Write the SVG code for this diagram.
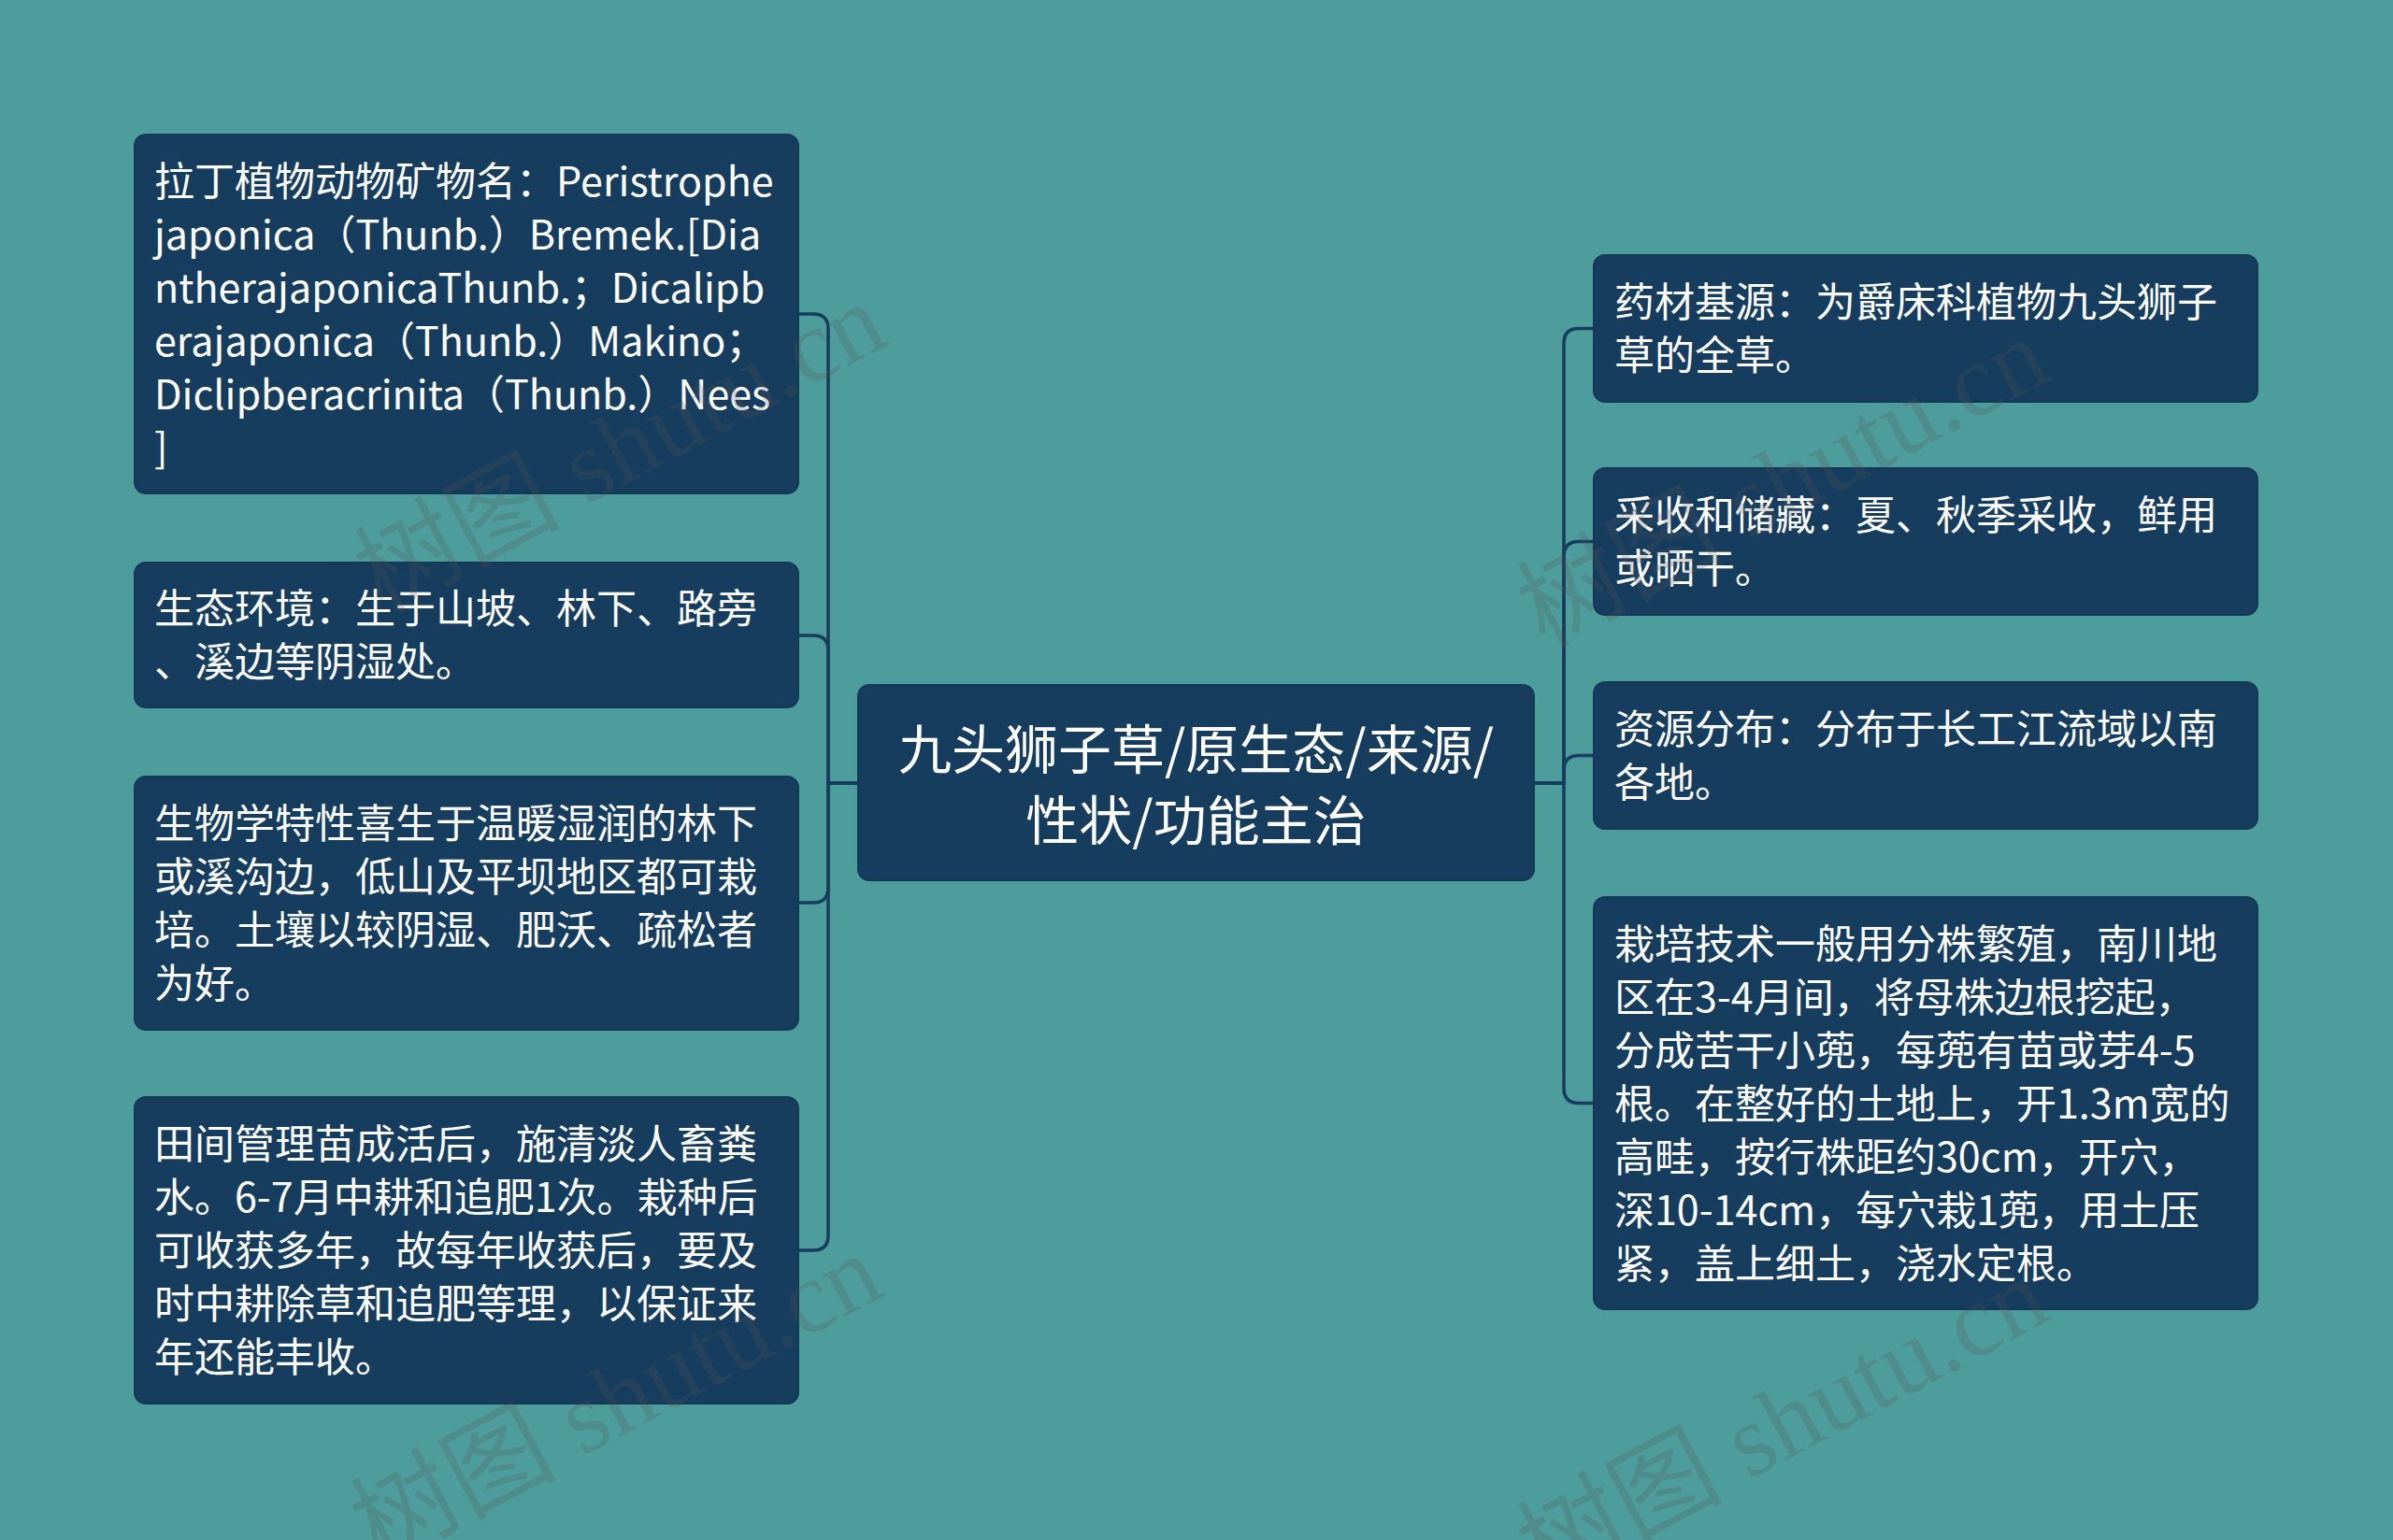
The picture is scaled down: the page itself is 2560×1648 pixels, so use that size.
<svg xmlns="http://www.w3.org/2000/svg" width="2560" height="1648" viewBox="0 0 2560 1648">
<style>
.bg{fill:#4E9D9D}
.box{fill:#173D5E;stroke:#143858;stroke-width:2}
.t{font-family:"Noto Sans CJK SC","Noto Sans",sans-serif;font-size:43px;fill:#FFFFFF}
.tc{font-family:"Noto Sans CJK SC","Noto Sans",sans-serif;font-size:57px;fill:#FFFFFF;text-anchor:middle}
.c{fill:none;stroke:#173D5E;stroke-width:3.5}
.wm{font-family:"Liberation Serif","Noto Sans CJK SC",serif;font-size:110px;fill:#555555;opacity:0.22}
</style>
<rect class="bg" x="0" y="0" width="2560" height="1648"/>
<g id="connectors">
<path class="c" d="M918,838 H886 V352 Q886,336 870,336 H854"/>
<path class="c" d="M918,838 H886 V696 Q886,680 870,680 H854"/>
<path class="c" d="M918,838 H886 V950 Q886,966 870,966 H854"/>
<path class="c" d="M918,838 H886 V1322 Q886,1338 870,1338 H854"/>
<path class="c" d="M1641,838 H1673 V367.5 Q1673,351.5 1689,351.5 H1705"/>
<path class="c" d="M1641,838 H1673 V595.5 Q1673,579.5 1689,579.5 H1705"/>
<path class="c" d="M1641,838 H1673 V824.5 Q1673,808.5 1689,808.5 H1705"/>
<path class="c" d="M1641,838 H1673 V1164.5 Q1673,1180.5 1689,1180.5 H1705"/>
</g>
<g id="center">
<rect class="box" x="918" y="733" width="723" height="209" rx="12"/>
<text class="tc" x="1279.5" y="823">九头狮子草/原生态/来源/</text>
<text class="tc" x="1279.5" y="899">性状/功能主治</text>
</g>
<g id="latin-name">
<rect class="box" x="144" y="144" width="710" height="384" rx="12"/>
<text class="t" x="165" y="209.5">拉丁植物动物矿物名：Peristrophe</text>
<text class="t" x="165" y="266.5">japonica（Thunb.）Bremek.[Dia</text>
<text class="t" x="165" y="323.5">ntherajaponicaThunb.；Dicalipb</text>
<text class="t" x="165" y="380.5">erajaponica（Thunb.）Makino；</text>
<text class="t" x="165" y="437.5">Diclipberacrinita（Thunb.）Nees</text>
<text class="t" x="165" y="494.5">]</text>
</g>
<g id="ecology">
<rect class="box" x="144" y="602" width="710" height="155" rx="12"/>
<text class="t" x="165" y="667">生态环境：生于山坡、林下、路旁</text>
<text class="t" x="165" y="724">、溪边等阴湿处。</text>
</g>
<g id="biology">
<rect class="box" x="144" y="831" width="710" height="271" rx="12"/>
<text class="t" x="165" y="897">生物学特性喜生于温暖湿润的林下</text>
<text class="t" x="165" y="954">或溪沟边，低山及平坝地区都可栽</text>
<text class="t" x="165" y="1011">培。土壤以较阴湿、肥沃、疏松者</text>
<text class="t" x="165" y="1068">为好。</text>
</g>
<g id="field">
<rect class="box" x="144" y="1174" width="710" height="328" rx="12"/>
<text class="t" x="165" y="1240">田间管理苗成活后，施清淡人畜粪</text>
<text class="t" x="165" y="1297">水。6-7月中耕和追肥1次。栽种后</text>
<text class="t" x="165" y="1354">可收获多年，故每年收获后，要及</text>
<text class="t" x="165" y="1411">时中耕除草和追肥等理，以保证来</text>
<text class="t" x="165" y="1468">年还能丰收。</text>
</g>
<g id="source">
<rect class="box" x="1705" y="273" width="710" height="157" rx="12"/>
<text class="t" x="1727" y="339">药材基源：为爵床科植物九头狮子</text>
<text class="t" x="1727" y="396">草的全草。</text>
</g>
<g id="harvest">
<rect class="box" x="1705" y="501" width="710" height="157" rx="12"/>
<text class="t" x="1727" y="567">采收和储藏：夏、秋季采收，鲜用</text>
<text class="t" x="1727" y="624">或晒干。</text>
</g>
<g id="distribution">
<rect class="box" x="1705" y="730" width="710" height="157" rx="12"/>
<text class="t" x="1727" y="796">资源分布：分布于长工江流域以南</text>
<text class="t" x="1727" y="853">各地。</text>
</g>
<g id="cultivation">
<rect class="box" x="1705" y="960" width="710" height="441" rx="12"/>
<text class="t" x="1727" y="1025.5">栽培技术一般用分株繁殖，南川地</text>
<text class="t" x="1727" y="1082.5">区在3-4月间，将母株边根挖起，</text>
<text class="t" x="1727" y="1139.5">分成苦干小蔸，每蔸有苗或芽4-5</text>
<text class="t" x="1727" y="1196.5">根。在整好的土地上，开1.3m宽的</text>
<text class="t" x="1727" y="1253.5">高畦，按行株距约30cm，开穴，</text>
<text class="t" x="1727" y="1310.5">深10-14cm，每穴栽1蔸，用土压</text>
<text class="t" x="1727" y="1367.5">紧，盖上细土，浇水定根。</text>
</g>
<g id="watermark">
<text class="wm" transform="translate(408,657) rotate(-28)">树图 shutu.cn</text>
<text class="wm" transform="translate(1652,694) rotate(-28)">树图 shutu.cn</text>
<text class="wm" transform="translate(404,1675) rotate(-28)">树图 shutu.cn</text>
<text class="wm" transform="translate(1652,1700) rotate(-28)">树图 shutu.cn</text>
</g>
</svg>
